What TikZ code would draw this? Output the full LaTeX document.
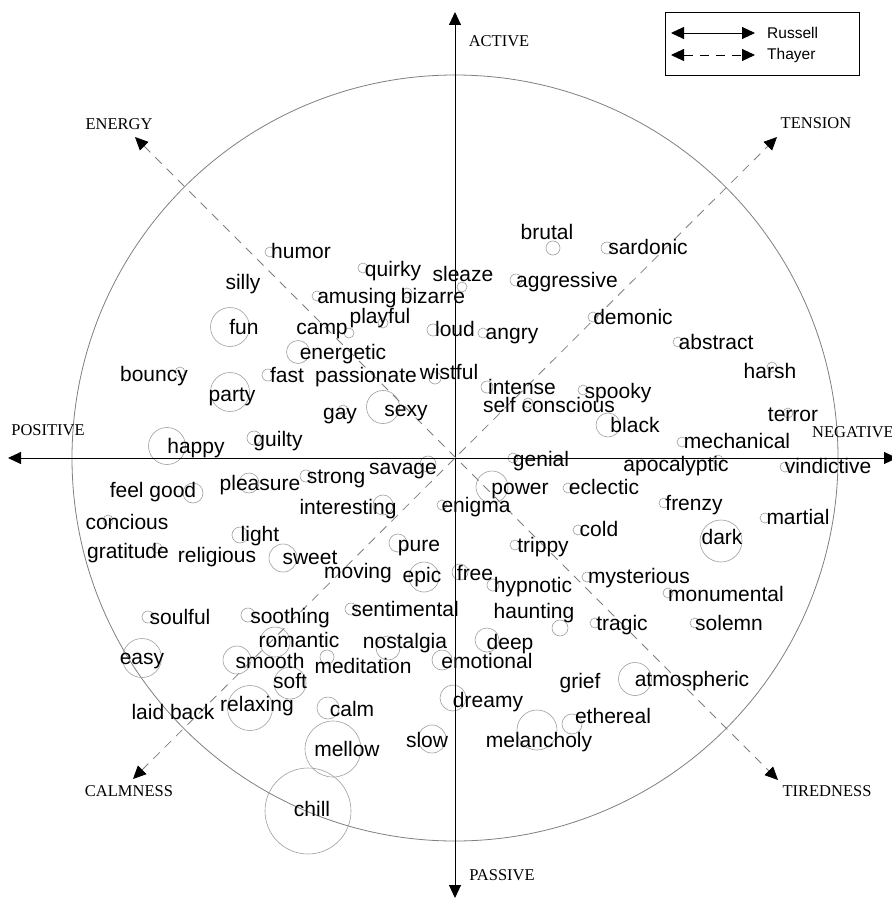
\documentclass[tikz,border=0pt]{standalone}
\usepackage{fontspec}
\setmainfont{Liberation Serif}
\newfontfamily\wsans{Liberation Sans}
\usetikzlibrary{arrows.meta}
\begin{document}
\begin{tikzpicture}[x=1pt,y=-1pt,
  >={Triangle[length=13pt,width=12pt,color=black]},
  word/.style={font=\wsans\fontsize{21}{24}\selectfont, anchor=mid, inner sep=0pt, text=black, yshift=-4pt},
  bubble/.style={circle, draw=gray!75, line width=0.6pt, inner sep=0pt},
  axislab/.style={font=\fontsize{16.5}{18}\selectfont, inner sep=0pt},
  axisline/.style={<->, line width=1pt, draw=black},
  thayer/.style={<->, line width=0.8pt, draw=gray, dash pattern=on 9pt off 7pt},
  legtext/.style={font=\wsans\fontsize{15.5}{17}\selectfont, anchor=west, inner sep=0pt},
  ring/.style={draw=gray, line width=0.8pt}]
\useasboundingbox (0,0) rectangle (891,899);
\fill[white] (0,0) rectangle (891,899);

% big circle
\node[circle, ring, minimum size=766pt, inner sep=0pt] (ring) at (455,458) {};

% bubbles
\foreach \id/\bx/\by/\r in {
  humor/270/252/5, quirky/363/268/5, sleaze/462/287/5, amusing/317/296/5,
  bizarre/407/293/5, playful/383/323/5, camp/349/333/5, loud/433/330/6,
  angry/483/333/5, energetic/298/352/11.5, fast/268/375/6, wistful/435/378/6,
  sexy/383/407/16.5, gay/343/410/5, intense/487/387/6, selfconscious/528/403/5,
  brutal/553/248/7, sardonic/607/248/6, aggressive/516/280/6, demonic/593/317/5,
  abstract/678/342/5, harsh/772/367/5, spooky/583/390/5, black/608/425/12,
  terror/788/413/5, mechanical/682/442/5, genial/513/458/5, apocalyptic/718/460/5,
  vindictive/785/467/5, power/492/487/16, eclectic/568/488/5, enigma/442/505/5,
  frenzy/664/503/5, martial/765/518/5, cold/578/530/5, dark/721/541/21,
  trippy/515/545/5, free/460/572/8, hypnotic/493/585/6, mysterious/587/577/5,
  monumental/668/593/5, haunting/560/628/8, tragic/595/623/5, solemn/695/623/5,
  deep/487/640/12, emotional/442/660/10, atmospheric/635/679/16.5, dreamy/453/698/13,
  ethereal/572/724/10, melancholy/537/730/20, slow/432/739/14, soulful/148/617/6,
  soothing/248/615/7, sentimental/351/609/6, easy/142/658/19.5, romantic/275/642/15,
  nostalgia/388/648/12, smooth/237/660/14, meditation/327/657/7, soft/290/683/16,
  relaxing/250/708/22.5, calm/328/708/11, mellow/333/749/28, chill/308/811/43,
  fun/230/327/19.5, bouncy/180/372/5, party/230/392/19.5, happy/167/446/18.5,
  guilty/254/438/7, feelgood/193/493/10, pleasure/249/483/10, strong/306/476/6,
  savage/428/464/8, interesting/383/505/10, concious/108/520/5, light/240/535/8,
  gratitude/157/548/5, sweet/283/558/14, pure/398/543/9, epic/424/577/15}
  \node[bubble, minimum size={2*\r pt}] (b-\id) at (\bx,\by) {};

% Russell axes
\coordinate (xl) at (8,458);
\coordinate (xr) at (897,458);
\coordinate (yt) at (455,12);
\coordinate (yb) at (455,898);
\draw[axisline] (xl) -- (xr);
\draw[axisline] (yt) -- (yb);

% Thayer axes
\coordinate (en) at (135,137);
\coordinate (te) at (777,137);
\coordinate (ca) at (133,779);
\coordinate (ti) at (778,780);
\draw[thayer] (en) -- (ti);
\draw[thayer] (ca) -- (te);

% axis labels
\node[axislab] (l-active) at (499,41) {ACTIVE};
\node[axislab] (l-passive) at (502,875) {PASSIVE};
\node[axislab] (l-positive) at (48,430) {POSITIVE};
\node[axislab, anchor=west] (l-negative) at (812,432) {NEGATIVE};
\node[axislab] (l-energy) at (119,124) {ENERGY};
\node[axislab] (l-tension) at (816,123) {TENSION};
\node[axislab] (l-calmness) at (129,791) {CALMNESS};
\node[axislab] (l-tiredness) at (827,791) {TIREDNESS};

% words
\foreach \id/\tx/\ty/\txt in {
  humor/301/252/humor, silly/243/283/silly, quirky/393/270/quirky, sleaze/463/275/sleaze,
  amusing/357/297/amusing, bizarre/433/297/bizarre, playful/380/317/playful, camp/322/328/camp,
  loud/455/330/loud, angry/512/333/angry, energetic/343/353/energetic, fast/287/376/fast,
  passionate/366/376/passionate, wistful/449/373/wistful, sexy/406/410/sexy, gay/340/413/gay,
  intense/522/388/intense, selfconscious/549/406/self conscious, brutal/547/233/brutal,
  sardonic/648/248/sardonic, aggressive/567/281/aggressive, demonic/633/318/demonic,
  abstract/716/343/abstract, harsh/770/372/harsh, spooky/618/392/spooky, black/635/426/black,
  terror/793/415/terror, mechanical/737/442/mechanical, genial/541/460/genial,
  apocalyptic/676/465/apocalyptic, vindictive/828/467/vindictive, power/520/488/power,
  eclectic/604/488/eclectic, enigma/476/506/enigma, frenzy/694/504/frenzy, martial/798/518/martial,
  cold/599/530/cold, dark/722/538/dark, trippy/543/546/trippy, free/475/574/free,
  hypnotic/533/586/hypnotic, mysterious/639/577/mysterious, monumental/726/595/monumental,
  haunting/534/612/haunting, tragic/622/624/tragic, solemn/729/624/solemn, deep/510/643/deep,
  emotional/487/662/emotional, atmospheric/692/680/atmospheric, grief/580/682/grief,
  dreamy/488/701/dreamy, ethereal/613/717/ethereal, melancholy/539/741/melancholy,
  slow/427/741/slow, soulful/180/618/soulful, soothing/290/617/soothing,
  sentimental/405/610/sentimental, easy/142/658/easy, romantic/299/641/romantic,
  nostalgia/405/642/nostalgia, smooth/270/662/smooth, meditation/363/667/meditation,
  soft/290/682/soft, relaxing/257/705/relaxing, laidback/173/713/laid back, calm/352/710/calm,
  mellow/347/750/mellow, chill/312/810/chill, fun/244/328/fun, bouncy/154/375/bouncy,
  party/232/395/party, happy/196/447/happy, guilty/278/440/guilty, feelgood/153/491/feel good,
  pleasure/260/484/pleasure, strong/336/477/strong, savage/403/468/savage,
  interesting/348/508/interesting, concious/127/523/concious, light/260/535/light,
  gratitude/128/552/gratitude, religious/217/556/religious, sweet/310/558/sweet,
  moving/358/572/moving, pure/419/545/pure, epic/422/576/epic}
  \node[word] (w-\id) at (\tx,\ty) {\txt};

% legend
\node[draw=black, line width=0.9pt, minimum width=194pt, minimum height=63pt, inner sep=0pt] (legend) at (762,43.5) {};
\coordinate (r1) at (671,33);
\coordinate (r2) at (755,33);
\coordinate (t1) at (671,55);
\coordinate (t2) at (755,55);
\draw[<->, line width=0.9pt] (r1) -- (r2);
\draw[<->, line width=0.9pt, dash pattern=on 9pt off 7pt] (t1) -- (t2);
\node[legtext] (leg-r) at (767,33) {Russell};
\node[legtext] (leg-t) at (767,55) {Thayer};
\end{tikzpicture}
\end{document}
